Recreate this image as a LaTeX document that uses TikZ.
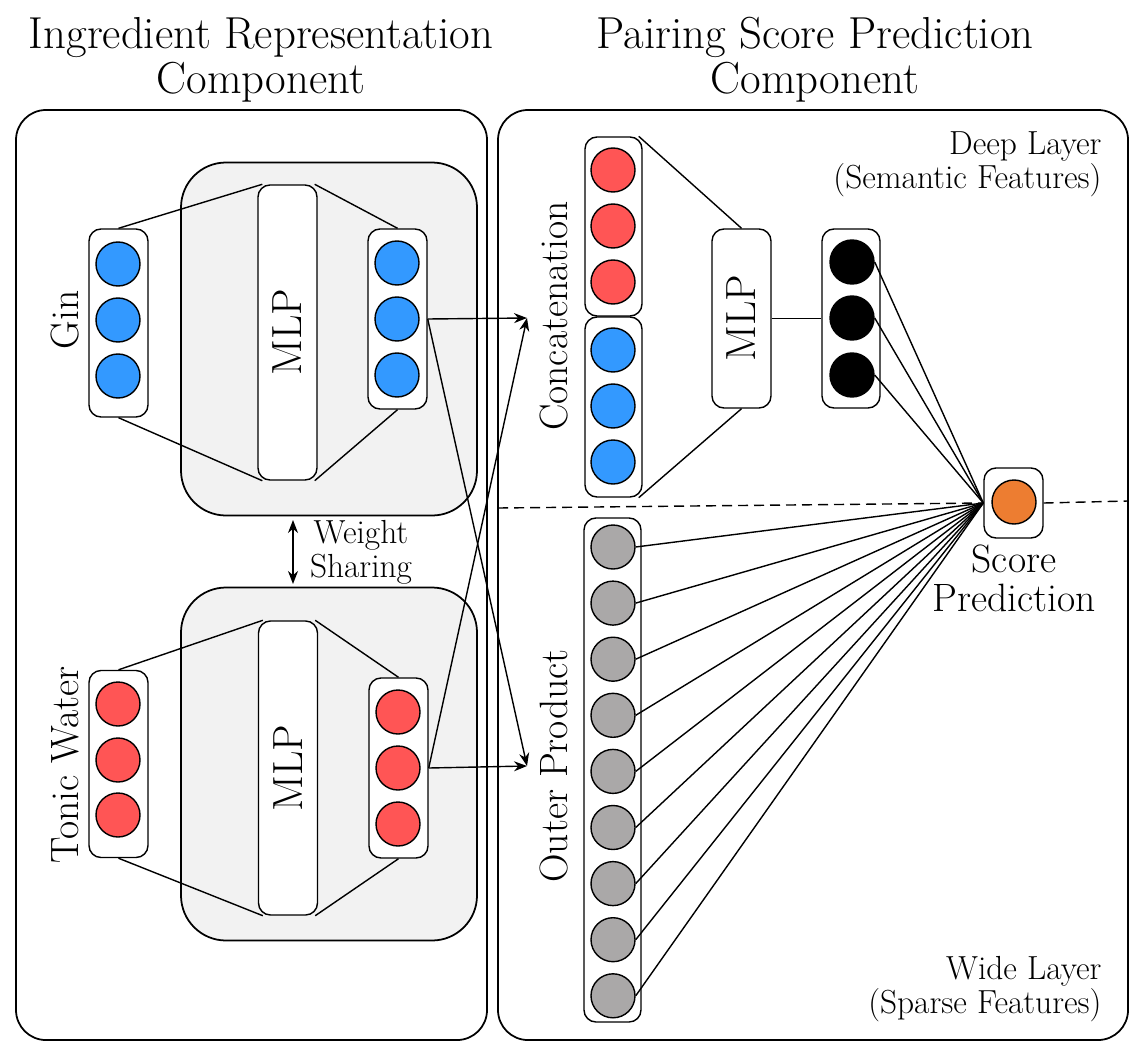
\documentclass[tikz,border=0pt]{standalone}
\usepackage{fontspec}
\usepackage{graphicx}
\usepackage{tikz}
\usetikzlibrary{arrows.meta,positioning,shapes,calc}
\definecolor{nblue}{RGB}{51,153,255}
\definecolor{nred}{RGB}{255,85,85}
\definecolor{ngray}{RGB}{170,168,168}
\definecolor{norange}{RGB}{237,125,49}
\newcommand{\mlptext}{\rotatebox{90}{MLP}}

\begin{document}
\begin{tikzpicture}[>={Stealth[length=2.6mm,width=2mm]},x=0.2mm,y=-0.2mm,line width=0.8pt]
        \tikzstyle{panel} = [draw, line width=1pt, rounded corners=6mm]
        \tikzstyle{group} = [draw, line width=1pt, fill=gray!10, rounded corners=9mm]
        \tikzstyle{bar} = [draw, fill=white, rounded corners=2.4mm, minimum width=11.8mm, inner sep=0pt]
        \tikzstyle{mlp} = [bar, font=\fontsize{24}{26}\selectfont]
        \tikzstyle{unit} = [circle, draw, minimum size=8.8mm, inner sep=0pt]
        \tikzstyle{title} = [align=center, font=\fontsize{25.5}{25.5}\selectfont]
        \tikzstyle{lbl} = [rotate=90, font=\fontsize{22.5}{24}\selectfont]
        \tikzstyle{note} = [font=\fontsize{19}{19.5}\selectfont]
        \useasboundingbox (0,0) rectangle (1135,1048);

        % Titles
        \node[title] (ttl1) at (261,60) {Ingredient Representation\\Component};
        \node[title] (ttl2) at (815,60) {Pairing Score Prediction\\Component};

        % Panels
        \node[panel, minimum width=94.2mm, minimum height=186mm] (lpanel) at (251.5,575) {};
        \node[panel, minimum width=126mm, minimum height=186mm] (rpanel) at (813,575) {};
        \node[group, minimum width=59.2mm, minimum height=70.6mm] (grp1) at (329,339) {};
        \node[group, minimum width=59.2mm, minimum height=70.6mm] (grp2) at (329,764) {};

        % Ingredient side
        \node[mlp, minimum height=59mm] (mlp1) at (287.5,332.5) {\mlptext};
        \node[mlp, minimum height=58.8mm] (mlp2) at (288,768) {\mlptext};
        \node[bar, minimum height=37.6mm] (gin) at (118.5,323) {};
        \node[bar, minimum height=36mm] (ginout) at (397.5,319) {};
        \node[bar, minimum height=37.4mm] (ton) at (118.5,764) {};
        \node[bar, minimum height=36mm] (tonout) at (398.5,768) {};
        \foreach \y [count=\i] in {264,320,376} \node[unit, fill=nblue] (gi\i) at (118,\y) {};
        \foreach \y [count=\i] in {263,319,375} \node[unit, fill=nblue] (go\i) at (397,\y) {};
        \foreach \y [count=\i] in {704,760,815} \node[unit, fill=nred] (ti\i) at (118,\y) {};
        \foreach \y [count=\i] in {712,768,824} \node[unit, fill=nred] (to\i) at (398,\y) {};
        \node[lbl] (ginlbl) at (65,320) {Gin};
        \node[lbl] (tonlbl) at (65,765) {Tonic Water};
        \node[note, align=center] (wslbl) at (361,552) {Weight\\Sharing};

        % Prediction side
        \node[bar, minimum width=11.4mm, minimum height=35.8mm] (cat1) at (613.5,226.5) {};
        \node[bar, minimum width=11.4mm, minimum height=36mm] (cat2) at (613.5,407) {};
        \node[mlp, minimum height=35.8mm] (mlp3) at (741.5,318.5) {\mlptext};
        \node[bar, minimum width=11.6mm, minimum height=35.8mm] (deep) at (851,318.5) {};
        \node[bar, minimum height=14mm] (score) at (1013.5,503) {};
        \node[bar, minimum width=11.4mm, minimum height=100.8mm] (wide) at (612.5,770) {};
        \foreach \y [count=\i] in {170,226,282} \node[unit, fill=nred] (cr\i) at (613,\y) {};
        \foreach \y [count=\i] in {350,406,462} \node[unit, fill=nblue] (cb\i) at (613,\y) {};
        \foreach \y [count=\i] in {262,318,375} \node[unit, fill=black] (d\i) at (852,\y) {};
        \foreach \i in {1,...,9} \node[unit, fill=ngray] (w\i) at (613,{547+56.1*(\i-1)}) {};
        \node[unit, fill=norange] (s) at (1014,502) {};
        \node[lbl] (catlbl) at (554,316) {Concatenation};
        \node[lbl] (outlbl) at (554,766) {Outer Product};
        \node[align=center, font=\fontsize{22.5}{22}\selectfont] (scorelbl) at (1014,578) {Score\\Prediction};
        \node[note, align=right, anchor=east] (deeplbl) at (1108,164) {Deep Layer\\(Semantic Features)};
        \node[note, align=right, anchor=east] (widelbl) at (1108,989) {Wide Layer\\(Sparse Features)};

        \coordinate (catin) at (527,318);
        \coordinate (outin) at (527,766);
        \coordinate (ws1) at (293,520);
        \coordinate (ws2) at (293,584);
        \coordinate (dl) at (498,508);
        \coordinate (dr) at (1128,501);

        % Edges
        \draw (gin.north) -- ($(mlp1.north west)+(5,0)$);
        \draw (gin.south) -- ($(mlp1.south west)+(5,0)$);
        \draw ($(mlp1.north east)+(-3,0)$) -- (ginout.north);
        \draw ($(mlp1.south east)+(-3,0)$) -- (ginout.south);
        \draw (ton.north) -- ($(mlp2.north west)+(5,0)$);
        \draw (ton.south) -- ($(mlp2.south west)+(5,0)$);
        \draw ($(mlp2.north east)+(-3,0)$) -- (tonout.north);
        \draw ($(mlp2.south east)+(-3,0)$) -- (tonout.south);
        \draw[<->] (ws1) -- (ws2);
        \draw[->] (ginout.east) -- (catin);
        \draw[->] (ginout.east) -- (outin);
        \draw[->] (tonout.east) -- (catin);
        \draw[->] (tonout.east) -- (outin);
        \draw ($(cat1.north east)+(-4,0)$) -- (mlp3.north);
        \draw ($(cat2.south east)+(-4,0)$) -- (mlp3.south);
        \draw (mlp3) -- (deep);
        \foreach \i in {1,2,3} \draw (d\i.east) -- (score.west);
        \foreach \i in {1,...,9} \draw (w\i.east) -- (score.west);
        \draw[dash pattern=on 2mm off 1.2mm] (dl) -- (score.west);
        \draw[dash pattern=on 2mm off 1.2mm] (score.east) -- (dr);
\end{tikzpicture}
\end{document}
